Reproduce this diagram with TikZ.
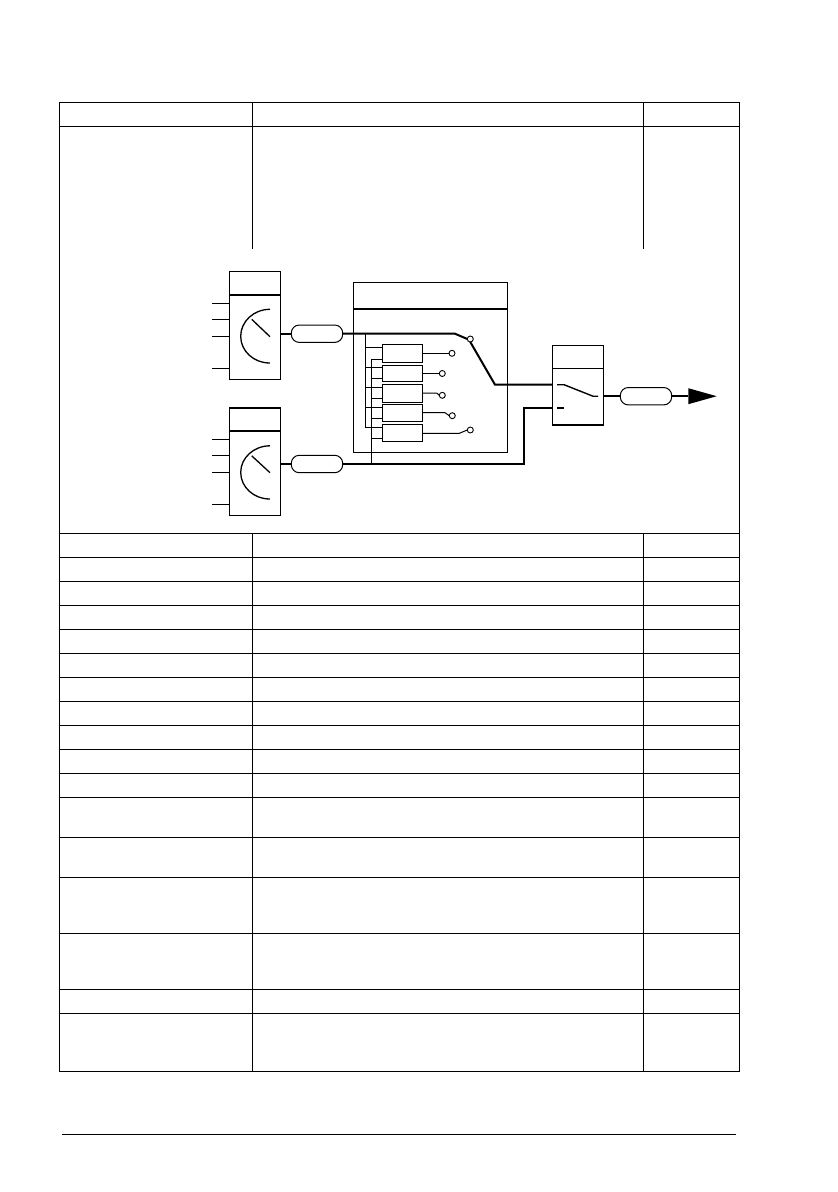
\documentclass[tikz,border=0pt]{standalone}
\begin{document}
\begin{tikzpicture}[x=1pt,y=-1pt,
  rule/.style={line width=1pt,black},
  thin line/.style={line width=1pt,black},
  heavy/.style={line width=2pt,black},
  gauge/.style={line width=1.3pt,black},
  block/.style={draw=black,line width=1pt,fill=white,inner sep=0pt,outer sep=0pt,minimum width=#1},
  pill/.style={draw=black,line width=1pt,fill=white,rounded corners=8pt,inner sep=0pt,outer sep=0pt,minimum width=51.4pt,minimum height=17.4pt},
  inner/.style={draw=black,line width=1pt,fill=white,inner sep=0pt,outer sep=0pt,minimum width=40pt},
  pin/.style={circle,draw=black,line width=0.9pt,fill=white,inner sep=0pt,outer sep=0pt,minimum size=6pt}]
\useasboundingbox (0,0) rectangle (838,1192);
\fill[white] (0,0) rectangle (838,1192);
% table
\draw[rule] (59.5,102.5) rectangle (739.5,1071.5);
\foreach \y in {126.5,533.5,557.5,581.5,605.5,629.5,653.5,677.5,701.5,725.5,749.5,773.5,797.5,837.5,877.5,933.5,989.5,1013.5}
  \draw[rule] (59.5,\y) -- (739.5,\y);
\foreach \x in {252.5,643.5} {
  \draw[rule] (\x,102.5) -- (\x,248.5);
  \draw[rule] (\x,533.5) -- (\x,1071.5);
}
\draw[rule] (62,1134.5) -- (736,1134.5);
% left blocks
\node[block=51pt,minimum height=107.7pt] (b1) at (254.8,325.15) {};
\node[block=51pt,minimum height=107.3pt] (b2) at (254.8,461.35) {};
\coordinate (d1) at (254.8,294.7);
\coordinate (d2) at (254.8,430.7);
\draw[heavy] (d1 -| b1.west) -- (d1 -| b1.east);
\draw[heavy] (d2 -| b2.west) -- (d2 -| b2.east);
\draw[heavy] (b2.north west) -- (b2.north east);
\foreach \n/\y in {a/303.3,b/319.3,c/336.3,d/368.3} {
  \coordinate (i1\n) at (212,\y);
  \draw[thin line] (i1\n) -- (i1\n -| b1.west);
}
\foreach \n/\y in {a/439.3,b/455.3,c/472.3,d/504.3} {
  \coordinate (i2\n) at (212,\y);
  \draw[thin line] (i2\n) -- (i2\n -| b2.west);
}
% gauges
\draw[gauge] (270,309.3) .. controls (253.8,309.3) and (240.7,321.4) .. (240.7,336.3) .. controls (240.7,351.2) and (253.8,363) .. (270,363);
\draw[gauge] (251.7,319.3) -- (270,336.7);
\draw[gauge] (270,445.8) .. controls (253.8,445.8) and (240.7,457.9) .. (240.7,472.3) .. controls (240.7,487.2) and (253.8,499) .. (270,499);
\draw[gauge] (251.7,455.8) -- (270,472.7);
% pills
\node[pill] (p1) at (317,333.7) {};
\node[pill] (p2) at (317,464) {};
\node[pill] (p3) at (646,396.2) {};
% middle box
\node[block=154pt,minimum height=170pt] (m) at (430.3,367.3) {};
\coordinate (dm) at (430.3,308.7);
\draw[heavy] (dm -| m.west) -- (dm -| m.east);
% switch block
\node[block=50.6pt,minimum height=79.7pt] (s) at (578,385.15) {};
\coordinate (ds) at (578,368.3);
\draw[thin line] (ds -| s.west) -- (ds -| s.east);
\draw[heavy] (s.south west) -- (s.south east);
% inner boxes
\node[inner,minimum height=18pt] (f1) at (402.3,353.3) {};
\node[inner,minimum height=16.4pt] (f2) at (402.3,373.5) {};
\node[inner,minimum height=18pt] (f3) at (402.3,393.3) {};
\node[inner,minimum height=17pt] (f4) at (402.3,412.8) {};
\node[inner,minimum height=17pt] (f5) at (402.3,432.8) {};
% pins
\node[pin] (q0) at (470.3,339) {};
\node[pin] (q1) at (452,353.3) {};
\node[pin] (q2) at (442.3,373.5) {};
\node[pin] (q3) at (442.3,395.3) {};
\node[pin] (q4) at (452.3,415.7) {};
\node[pin] (q5) at (470.3,430) {};
% connectors, main
\coordinate (k0) at (455,333.7);
\coordinate (k1) at (495,384.7);
\coordinate (k2) at (524,464);
\coordinate (k3) at (524,408);
\draw[heavy] (p1.west) -- (p1.west -| b1.east);
\draw[heavy] (p2.west) -- (p2.west -| b2.east);
\draw[heavy,line join=miter] (p1.east) -- (k0) -- (q0.west);
\draw[heavy,line join=miter] (q0.south) -- (k1) -- (k1 -| s.west);
\draw[heavy,line join=miter] (p2.east) -- (k2) -- (k3) -- (k3 -| s.west);
% arrow output
\coordinate (t1) at (688.3,388.2);
\coordinate (t2) at (688.3,404.2);
\coordinate (t3) at (716.7,396.2);
\draw[heavy] (p3.west) -- (p3.west -| s.east);
\draw[heavy] (p3.east) -- (t1 |- p3.east);
\fill[black] (t1) -- (t3) -- (t2) -- cycle;
% switch contacts
\coordinate (c1) at (557,384.7);
\coordinate (c2) at (564,384.7);
\coordinate (c3) at (593,396.2);
\coordinate (c4) at (598,396.2);
\coordinate (c5) at (557,408);
\coordinate (c6) at (564,408);
\draw[line width=1.4pt] (c1) -- (c2) -- (c3) -- (c4);
\draw[line width=1.6pt] (c5) -- (c6);
% inner buses
\coordinate (v1t) at (365.3,333.7);
\coordinate (v1b) at (365.3,427.3);
\coordinate (v2t) at (371.3,359.3);
\coordinate (v2b) at (371.3,464);
\draw[thin line] (v1t) -- (v1b);
\draw[thin line] (v2t) -- (v2b);
\foreach \i/\y in {1/347.3,2/367.3,3/387.3,4/407.3,5/427.3} {
  \coordinate (ba\i) at (365.3,\y);
  \draw[thin line] (ba\i) -- (ba\i -| f\i.west);
}
\foreach \i/\y in {1/359.3,2/378.3,3/398.3,4/418.3,5/438.3} {
  \coordinate (bb\i) at (371.3,\y);
  \draw[thin line] (bb\i) -- (bb\i -| f\i.west);
}
% inner outputs
\coordinate (o3) at (436.7,393);
\coordinate (o4) at (445,412.7);
\coordinate (o5) at (459.3,433.3);
\draw[thin line] (f1.east |- q1) -- (q1.west);
\draw[thin line] (f2.east |- q2) -- (q2.west);
\draw[thin line] (f3.east |- o3) -- (o3) -- (q3.west);
\draw[thin line] (f4.east |- o4) -- (o4) -- (q4.west);
\draw[thin line] (f5.east |- o5) -- (o5) -- (q5.west);
\end{tikzpicture}
\end{document}
